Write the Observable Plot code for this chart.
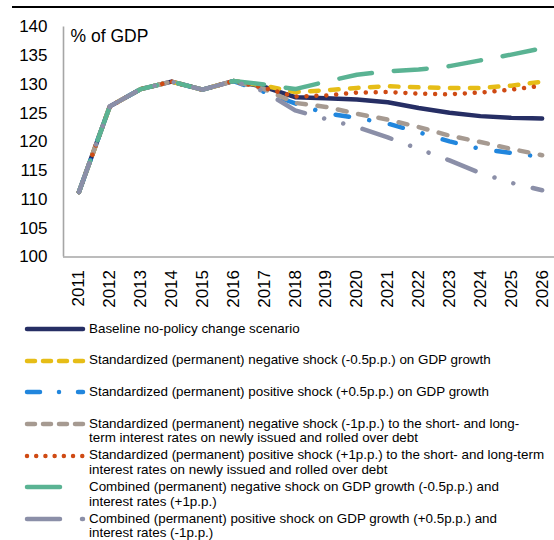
<!DOCTYPE html>
<html><head><meta charset="utf-8">
<script src="https://cdn.jsdelivr.net/npm/d3@7"></script>
<script src="https://cdn.jsdelivr.net/npm/@observablehq/plot@0.6"></script>
<style>
body{margin:0;background:#fff;font-family:"Liberation Sans",Arial,sans-serif;}
#wrap{position:relative;width:554px;height:540px;overflow:hidden;background:#fff}
#topline{position:absolute;left:12px;right:0;top:6px;height:1.6px;background:#000}
#chart{position:absolute;left:0;top:0}
#legend{position:absolute;left:0;top:0;width:554px;height:540px}
.sw{position:absolute;left:0;width:90px;height:10px}
.lt{position:absolute;left:89px;width:465px;font-size:13.4px;line-height:14.5px;color:#000;white-space:pre;}
</style>
</head><body>
<div id="wrap"><div id="topline"></div><div id="chart"></div><div id="legend"></div></div>
<script>
const years = [2011,2012,2013,2014,2015,2016,2017,2018,2019,2020,2021,2022,2023,2024,2025,2026];
const yTicks = [100,105,110,115,120,125,130,135,140];

const baseline = [111.3,126.2,129.2,130.5,129.1,130.6,129.6,127.8,127.6,127.4,126.9,125.9,125.1,124.5,124.2,124.1];
const negGdp   = [111.3,126.2,129.2,130.5,129.1,130.6,129.8,128.7,129.0,129.4,129.7,129.5,129.4,129.4,129.8,130.5];
const posGdp   = [111.3,126.2,129.2,130.5,129.1,130.6,128.7,126.7,125.0,124.2,123.2,121.7,120.1,118.8,118.1,117.4];
const negRate  = [111.3,126.2,129.2,130.5,129.1,130.6,129.2,126.8,126.1,124.9,123.9,122.6,121.1,120.0,118.8,117.7];
const posRate  = [111.3,126.2,129.2,130.5,129.1,130.6,129.4,127.9,128.1,128.6,128.7,128.4,128.3,128.6,129.1,129.8];
const combNeg  = [111.3,126.2,129.2,130.5,129.1,130.6,130.0,129.2,130.5,131.7,132.3,132.6,133.2,134.2,135.2,136.3];
const combPos  = [111.3,126.2,129.2,130.5,129.1,130.6,128.8,125.5,124.0,122.6,120.8,118.8,116.8,114.6,112.9,111.6];

const labels = [
  "Baseline no-policy change scenario",
  "Standardized (permanent) negative shock (-0.5p.p.) on GDP growth",
  "Standardized (permanent) positive shock (+0.5p.p.) on GDP growth",
  "Standardized (permanent) negative shock (-1p.p.) to the short- and long-\nterm interest rates on newly issued and rolled over debt",
  "Standardized (permanent) positive shock (+1p.p.) to the short- and long-term\ninterest rates on newly issued and rolled over debt",
  "Combined (permanent) negative shock on GDP growth (-0.5p.p.) and\ninterest rates (+1p.p.)",
  "Combined (permanent) positive shock on GDP growth (+0.5p.p.) and\ninterest rates (-1p.p.)"
];
const seriesValues = [baseline, negGdp, posGdp, negRate, posRate, combNeg, combPos];
const colors = ["#262e64","#e6bd17","#2186dd","#a69a91","#cf4a14","#5ab393","#8b8fa8"];
const dashes = [null,"8.5,11.5","13.5,20.5,0.01,21","9,11.7","0.01,9.9","33,22","30.5,20,0.01,19.7,0.01,20"];
const legendDashes = [null,"8,8","13,19,0.01,19","8,8","0.01,9.2","33,24","33,22"];

const rows = [];
seriesValues.forEach((vals, s) => years.forEach((yr, i) => rows.push({s, year: yr, value: vals[i]})));

const xDomain = [2010.5, 2026.4];
const marks = [
  Plot.ruleY([yTicks[0]], {stroke: "#a6a6a6", strokeWidth: 1.6}),
  Plot.ruleX([xDomain[0]], {stroke: "#a6a6a6", strokeWidth: 1.6}),
  Plot.axisY({ticks: yTicks, tickSize: 0, tickPadding: 16, fontSize: 17, label: null, tickFormat: d => String(d)}),
  Plot.axisX({ticks: years, tickSize: 0, tickPadding: 13, tickRotate: -90, fontSize: 17, label: null, tickFormat: d => String(d)}),
  Plot.text(["% of GDP"], {frameAnchor: "top-left", dx: 7, dy: 3, lineAnchor: "top", textAnchor: "start", fontSize: 17.5, fill: "#000"})
];
seriesValues.forEach((vals, s) => {
  marks.push(Plot.line(rows.filter(r => r.s === s), {
    x: "year", y: "value", stroke: colors[s], strokeWidth: 4.5,
    strokeLinecap: "round", strokeLinejoin: "round",
    strokeDasharray: dashes[s] || undefined
  }));
});

const chart = Plot.plot({
  width: 554, height: 318,
  marginLeft: 63, marginRight: 0, marginTop: 26.5, marginBottom: 61.5,
  style: {fontFamily: "'Liberation Sans', Arial, sans-serif", color: "#000", background: "transparent"},
  x: {type: "linear", domain: xDomain, axis: null},
  y: {domain: [100, 140], axis: null},
  marks
});
document.getElementById("chart").appendChild(chart);

const legend = document.getElementById("legend");
const rowTop = 329, rowStep = 31.67;
labels.forEach((lab, s) => {
  const cy = rowTop + s * rowStep;
  const ns = "http://www.w3.org/2000/svg";
  const svg = document.createElementNS(ns, "svg");
  svg.setAttribute("class", "sw");
  svg.setAttribute("width", 90); svg.setAttribute("height", 10);
  svg.style.top = (cy - 5) + "px";
  const ln = document.createElementNS(ns, "line");
  ln.setAttribute("x1", 27); ln.setAttribute("x2", 83);
  ln.setAttribute("y1", 5); ln.setAttribute("y2", 5);
  ln.setAttribute("stroke", colors[s]); ln.setAttribute("stroke-width", 4.5);
  ln.setAttribute("stroke-linecap", "round");
  if (legendDashes[s]) ln.setAttribute("stroke-dasharray", legendDashes[s]);
  svg.appendChild(ln);
  legend.appendChild(svg);
  const t = document.createElement("div");
  t.className = "lt";
  t.style.top = (cy - 7.25) + "px";
  t.textContent = lab;
  legend.appendChild(t);
});
</script>
</body></html>
